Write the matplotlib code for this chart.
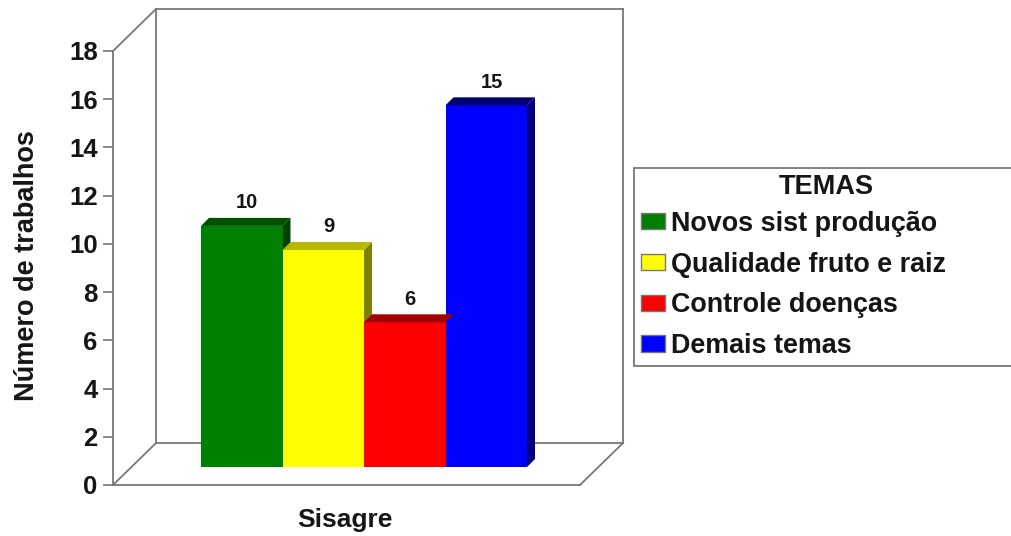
import matplotlib
matplotlib.use("Agg")
import matplotlib.pyplot as plt
from matplotlib.patches import Polygon, Rectangle, Patch

plt.rcParams["font.family"] = ["Liberation Sans", "DejaVu Sans"]
plt.rcParams["font.weight"] = "bold"

# ── Daten ─────────────────────────────────────────────────────────────────────
temas = ["Novos sist produção", "Qualidade fruto e raiz", "Controle doenças", "Demais temas"]
valores = [10, 9, 6, 15]
yticks = list(range(0, 19, 2))
cores = ["#008000", "#ffff00", "#ff0000", "#0000ff"]
cores_topo = ["#005000", "#b8b800", "#a00000", "#000070"]
cores_lado = ["#004000", "#808000", "#800000", "#000080"]

W, H = 1011, 536
TXT = "#151515"
GRID = "#777777"

fig = plt.figure(figsize=(W / 100, H / 100), dpi=100, facecolor="white")
# Achse = vordere Ebene der Pseudo-3D-Box (Pixel 113..580 / 485..51)
ax = fig.add_axes([113 / W, 1 - 485 / H, 467 / W, 434 / H])
px_x = 81.5          # Pixel pro Balken
px_y = 434 / 18      # Pixel pro Einheit
ax.set_xlim(-88 / px_x, (467 - 88) / px_x)
ax.set_ylim(0, 18)
ax.patch.set_alpha(0)

# Box hinten / Boden
wx, wy = 43 / px_x, 42 / px_y
x0, x1 = ax.get_xlim()
box = [
    ([x0, x0 + wx], [0, wy]),
    ([x0, x0 + wx], [18, 18 + wy]),
    ([x1, x1 + wx], [0, wy]),
    ([x0 + wx, x0 + wx], [wy, 18 + wy]),
    ([x1 + wx, x1 + wx], [wy, 18 + wy]),
    ([x0 + wx, x1 + wx], [18 + wy, 18 + wy]),
    ([x0 + wx, x1 + wx], [wy, wy]),
]
for xs, ys in box:
    ax.plot(xs, ys, color=GRID, lw=1.3, clip_on=False, zorder=1, solid_capstyle="projecting")

# Balken
base = 18 / px_y
dx, dy = 8 / px_x, 8 / px_y
pos = list(range(len(valores)))
ax.bar(pos, valores, width=1.0, bottom=base, align="edge", color=cores, zorder=3, clip_on=False)
for i, v in enumerate(valores):
    top = base + v
    ax.add_patch(Polygon([(i + 1, base), (i + 1 + dx, base + dy), (i + 1 + dx, top + dy), (i + 1, top)],
                         closed=True, fc=cores_lado[i], ec="none", zorder=2 + i * 0.01, clip_on=False))
    ax.add_patch(Polygon([(i, top), (i + dx, top + dy), (i + 1 + dx, top + dy), (i + 1, top)],
                         closed=True, fc=cores_topo[i], ec="none", zorder=3.1, clip_on=False))
    ax.annotate(str(v), (i + 0.5 + dx / 2, top + dy), xytext=(1, 4), textcoords="offset points",
                ha="center", va="bottom", fontsize=14.5, color=TXT, zorder=5)

# Achsen
for s in ("top", "right"):
    ax.spines[s].set_visible(False)
for s in ("left", "bottom"):
    ax.spines[s].set_color(GRID)
    ax.spines[s].set_linewidth(1.3)
ax.set_yticks(yticks)
ax.set_xticks([])
ax.tick_params(axis="y", length=7, width=1.2, color=GRID, pad=4, labelsize=18.5, labelcolor=TXT)
fig.text(27 / W, 1 - 266 / H, "Número de trabalhos", rotation=90, ha="center", va="center",
         fontsize=19.5, color=TXT)
fig.text(345 / W, 1 - 520 / H, "Sisagre", ha="center", va="center", fontsize=19, color=TXT)

# Legende
fig.add_artist(Rectangle((634 / W, 1 - 366 / H), 400 / W, 198 / H, transform=fig.transFigure,
                         fc="white", ec=GRID, lw=1.3))
fig.text(826 / W, 1 - 187 / H, "TEMAS", ha="center", va="center", fontsize=19.5, color=TXT)
handles = [Patch(fc=c, ec=GRID, lw=1.0, label=t) for c, t in zip(cores, temas)]
fig.legend(handles=handles, loc="upper left", bbox_to_anchor=(634 / W, 1 - 204 / H), frameon=False,
           fontsize=19.4, labelcolor=TXT, handlelength=0.89, handleheight=0.56, handletextpad=0.23,
           labelspacing=0.55, borderpad=0.25, borderaxespad=0)

fig.savefig("out.png", dpi=100)
plt.close(fig)
